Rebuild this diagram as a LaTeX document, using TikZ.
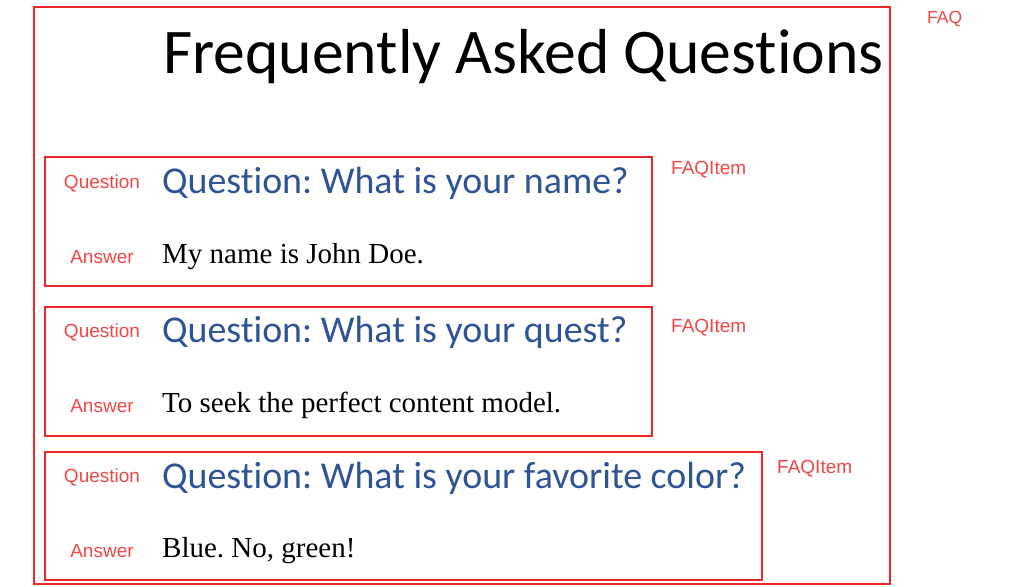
\documentclass[tikz,border=0pt]{standalone}
\usepackage{fontspec}
\setmainfont{Liberation Serif}
\newfontfamily\calib[Ligatures=NoCommon]{Carlito}
\newfontfamily\arialf{Liberation Sans}
\definecolor{boxred}{RGB}{238,40,40}
\definecolor{labred}{RGB}{240,70,70}
\definecolor{qblue}{RGB}{47,84,150}
\frenchspacing
\begin{document}
\begin{tikzpicture}[x=1pt,y=-1pt,
  frame/.style={draw=boxred,line width=1.6pt},
  tag/.style={font=\arialf\fontsize{19}{22}\selectfont,text=labred,inner sep=0pt},
  qtext/.style={font=\calib\fontsize{37.9}{44}\selectfont,text=qblue,anchor=base west,inner sep=0pt},
  atext/.style={font=\fontsize{29}{33}\selectfont,text=black,anchor=base west,inner sep=0pt}]
\useasboundingbox (0,0) rectangle (1024,586);
% outer FAQ box
\draw[frame] (34,7) rectangle (890,584);
\node[tag,font=\arialf\fontsize{17.5}{20}\selectfont,anchor=west] (faqlab) at (927,19) {FAQ};
\node[font=\calib\fontsize{63.6}{70}\selectfont,anchor=base west,inner sep=0pt] (title) at (163,73) {Frequently Asked Questions};
% item 1
\draw[frame] (45,157) rectangle (652,286);
\node[tag,anchor=west] (item1) at (671,170) {FAQItem};
\node[tag] (q1lab) at (102,183) {Question};
\node[qtext] (q1) at (162,193) {Question: What is your name?};
\node[tag] (a1lab) at (102,257) {Answer};
\node[atext] (a1) at (162,263) {My name is John Doe.};
% item 2
\draw[frame] (45,307) rectangle (652,436);
\node[tag,anchor=west] (item2) at (671,328) {FAQItem};
\node[tag] (q2lab) at (102,332) {Question};
\node[qtext] (q2) at (162,342) {Question: What is your quest?};
\node[tag] (a2lab) at (102,406) {Answer};
\node[atext] (a2) at (162,412) {To seek the perfect content model.};
% item 3
\draw[frame] (45,452) rectangle (762,580);
\node[tag,anchor=west] (item3) at (777,469) {FAQItem};
\node[tag] (q3lab) at (102,477) {Question};
\node[qtext] (q3) at (162,488) {Question: What is your favorite color?};
\node[tag] (a3lab) at (102,551) {Answer};
\node[atext] (a3) at (162,557) {Blue. No, green!};
\end{tikzpicture}
\end{document}
